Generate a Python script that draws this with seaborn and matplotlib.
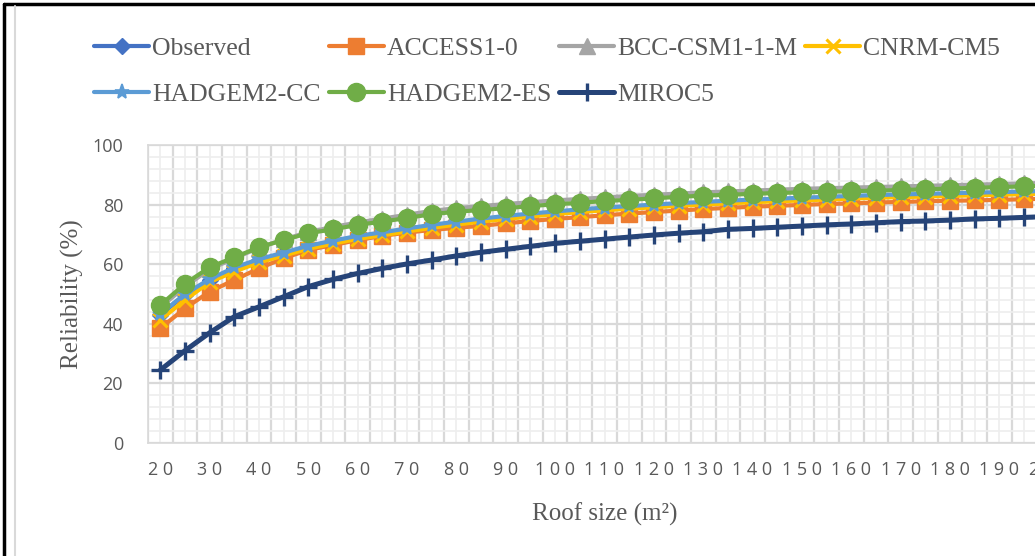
import numpy as np
import pandas as pd
import matplotlib
matplotlib.use("Agg")
import matplotlib.pyplot as plt
from matplotlib.lines import Line2D
from matplotlib.ticker import MultipleLocator, FuncFormatter
import seaborn as sns

# Roof sizes (m2) and reliability (%)
roof = list(range(20, 205, 5))

observed = [43.0, 49.7, 54.7, 58.6, 61.4, 63.6, 65.9, 67.6, 69.2, 70.4, 71.7, 72.9,
            74.0, 75.0, 75.9, 76.7, 77.4, 78.1, 78.7, 79.2, 79.7, 80.2, 80.6, 81.0,
            81.4, 81.7, 82.0, 82.3, 82.6, 82.9, 83.1, 83.3, 83.5, 83.7, 83.9, 84.1, 84.3]
access = [38.5, 45.2, 50.8, 54.7, 58.6, 62.0, 64.8, 66.4, 68.1, 69.5, 70.6, 71.5,
          72.2, 72.9, 73.7, 74.5, 75.2, 75.8, 76.4, 77.0, 77.5, 78.0, 78.5, 78.9,
          79.3, 79.6, 79.9, 80.2, 80.4, 80.7, 80.9, 81.1, 81.3, 81.4, 81.6, 81.8, 82.0]
bcc = [45.5, 52.5, 58.3, 62.0, 65.5, 68.3, 70.8, 72.5, 74.0, 75.3, 76.6, 77.9,
       78.8, 79.5, 80.2, 80.8, 81.4, 81.9, 82.4, 82.9, 83.3, 83.7, 84.1, 84.4,
       84.7, 85.0, 85.3, 85.5, 85.7, 85.9, 86.1, 86.3, 86.5, 86.7, 86.9, 87.1, 87.3]
cnrm = [41.3, 48.0, 54.0, 57.5, 60.6, 62.9, 65.2, 66.9, 68.5, 69.7, 71.0, 72.2,
        73.3, 74.3, 75.2, 76.0, 76.8, 77.5, 78.1, 78.6, 79.1, 79.6, 80.0, 80.4,
        80.8, 81.1, 81.4, 81.7, 82.0, 82.3, 82.5, 82.7, 82.9, 83.1, 83.3, 83.5, 83.7]
hadgem_cc = [43.3, 50.0, 55.0, 58.9, 61.7, 63.9, 66.2, 67.9, 69.5, 70.7, 72.0, 73.2,
             74.3, 75.3, 76.2, 77.0, 77.7, 78.4, 79.0, 79.5, 80.0, 80.5, 80.9, 81.3,
             81.7, 82.0, 82.3, 82.6, 82.9, 83.2, 83.4, 83.6, 83.8, 84.0, 84.2, 84.4, 84.6]
hadgem_es = [46.3, 53.4, 59.0, 62.3, 65.7, 68.1, 70.4, 71.7, 73.2, 74.3, 75.5, 76.8,
             77.6, 78.2, 78.8, 79.5, 80.1, 80.6, 81.2, 81.6, 82.1, 82.6, 83.0, 83.3,
             83.6, 83.9, 84.1, 84.3, 84.5, 84.7, 84.9, 85.1, 85.4, 85.6, 85.9, 86.1, 86.3]
miroc5 = [24.5, 31.0, 37.0, 42.4, 45.7, 49.1, 52.5, 54.9, 56.9, 58.6, 60.1, 61.4,
          62.8, 64.0, 65.0, 66.0, 67.0, 67.7, 68.4, 69.1, 69.8, 70.4, 70.9, 71.7,
          72.0, 72.4, 72.8, 73.2, 73.5, 73.9, 74.3, 74.5, 74.8, 75.2, 75.4, 75.7, 76.0]

names = ["Observed", "ACCESS1-0", "BCC-CSM1-1-M", "CNRM-CM5",
         "HADGEM2-CC", "HADGEM2-ES", "MIROC5"]
series = [observed, access, bcc, cnrm, hadgem_cc, hadgem_es, miroc5]
colors = ["#4472C4", "#ED7D31", "#A5A5A5", "#FFC000", "#5B9BD5", "#70AD47", "#264478"]
markers = ["D", "s", "^", "x", "*", "o", "+"]
msizes = [8.5, 12, 11.5, 10, 11, 13, 13]
lwidths = [3.0, 3.0, 3.0, 3.0, 3.0, 3.0, 3.6]

df = pd.DataFrame({"roof": roof})
for n, s in zip(names, series):
    df[n] = s

sns.set_style("white")
serif = ["Liberation Serif", "DejaVu Serif"]
sans = ["Open Sans", "DejaVu Sans"]
txt_col = "#595959"

fig = plt.figure(figsize=(10.35, 5.56), dpi=100)
ax = fig.add_axes([148 / 1035, 113 / 556, 913 / 1035, 298 / 556])

for n, c, m, ms, lw in zip(names, colors, markers, msizes, lwidths):
    mew = {"x": 2.2, "+": 2.4, "*": 1.2}.get(m, 1.0)
    sns.lineplot(data=df, x="roof", y=n, ax=ax, color=c, lw=lw, marker=m,
                 markersize=ms, markeredgecolor=c, markeredgewidth=mew,
                 label=n, solid_capstyle="round")

ax.set_xlim(17.5, 202.5)
ax.set_ylim(0, 100)

# category boundaries carry the darker grid, data points the lighter one
ax.xaxis.set_major_locator(MultipleLocator(5, offset=2.5))
ax.xaxis.set_minor_locator(MultipleLocator(5))
ax.xaxis.set_major_formatter(FuncFormatter(lambda v, p: ""))
ax.xaxis.set_minor_formatter(
    FuncFormatter(lambda v, p: " ".join(str(int(round(v)))) if round(v) % 10 == 0 else ""))
ax.yaxis.set_major_locator(MultipleLocator(20))
ax.yaxis.set_minor_locator(MultipleLocator(4))
ax.grid(which="major", color="#d9d9d9", lw=1.6)
ax.grid(which="minor", color="#eeeeee", lw=1.2)
ax.set_axisbelow(True)
ax.tick_params(which="both", length=0)
ax.tick_params(axis="x", which="minor", pad=13)
ax.tick_params(axis="y", pad=18)
for lab in ax.get_xticklabels(minor=True) + ax.get_yticklabels():
    lab.set_fontfamily(sans)
    lab.set_fontsize(13)
    lab.set_color(txt_col)
for sp in ax.spines.values():
    sp.set_color("#d9d9d9")
    sp.set_linewidth(1.2)

ax.set_xlabel("Roof size (m²)", fontfamily=serif, fontsize=18, color=txt_col, labelpad=17)
ax.set_ylabel("Reliability (%)", fontfamily=serif, fontsize=18, color=txt_col, labelpad=6)

h, l = ax.get_legend_handles_labels()
order = [0, 4, 1, 5, 2, 6, 3]
leg = fig.legend([h[i] for i in order], [l[i] for i in order], ncol=4,
                 loc="upper left", bbox_to_anchor=(71 / 1035, 1 - 14 / 556),
                 frameon=False, handlelength=2.15, handletextpad=0.12,
                 columnspacing=0.3, labelspacing=0.9,
                 prop={"family": serif, "size": 18.5})
for t in leg.get_texts():
    t.set_color(txt_col)
ax.get_legend().remove()

# outer frame of the cropped figure
fig.add_artist(Line2D([4 / 1035, 4 / 1035], [0, 1 - 4 / 556], color="black", lw=2.5,
                      transform=fig.transFigure))
fig.add_artist(Line2D([4 / 1035, 1], [1 - 4 / 556, 1 - 4 / 556], color="black", lw=2.5,
                      transform=fig.transFigure))
fig.add_artist(Line2D([15 / 1035, 15 / 1035], [0, 1 - 6 / 556], color="#d9d9d9", lw=1.5,
                      transform=fig.transFigure))

fig.savefig("out.png", dpi=100)
